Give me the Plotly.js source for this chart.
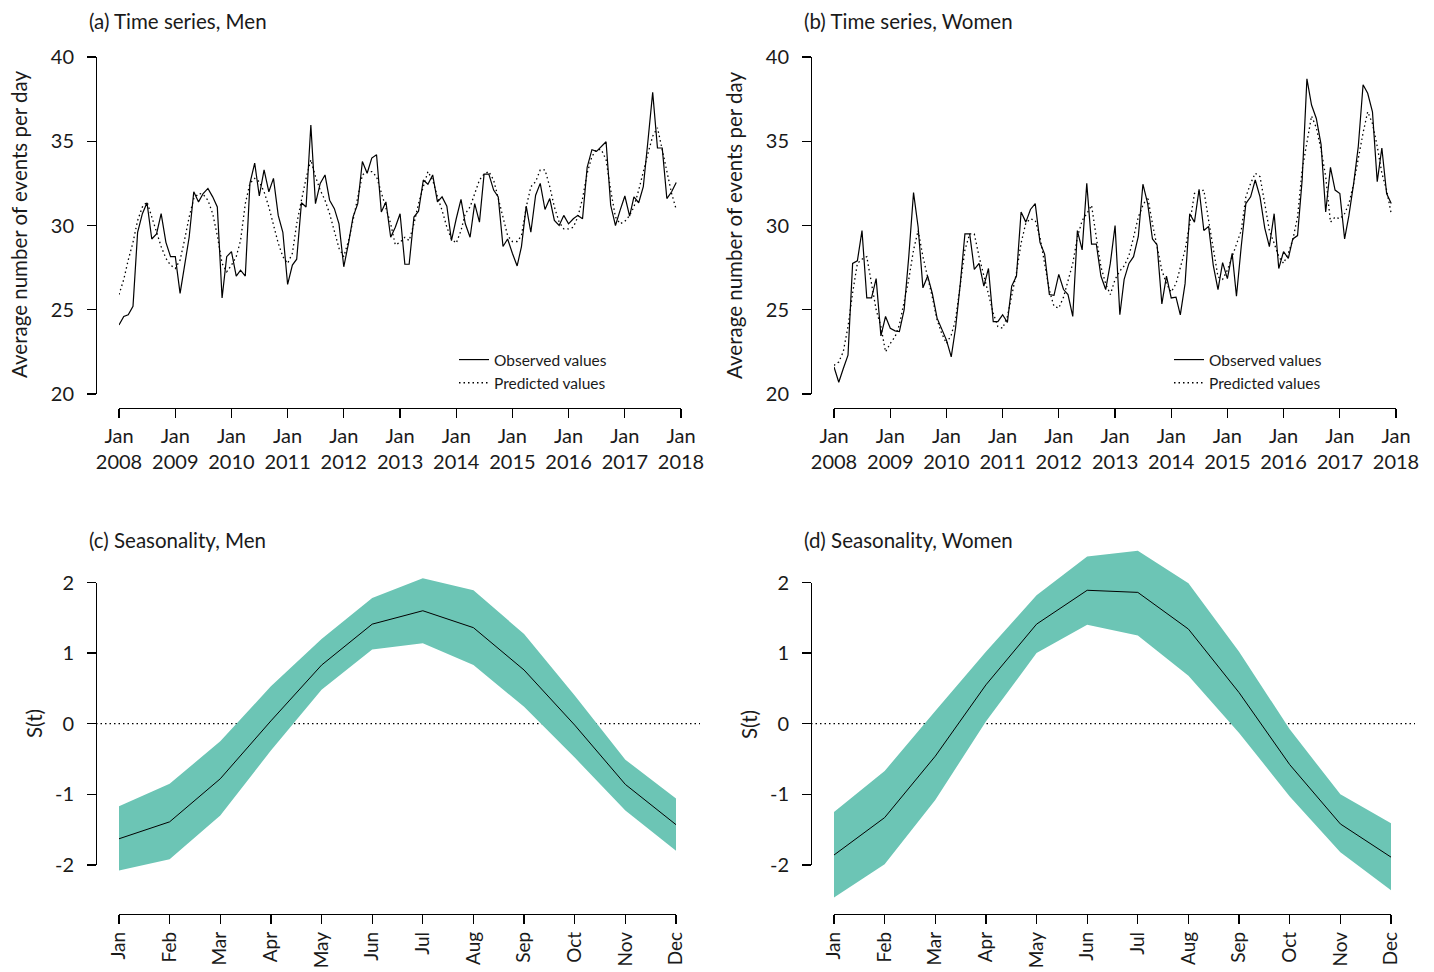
<!DOCTYPE html>
<html><head><meta charset="utf-8">
<script src="https://cdn.plot.ly/plotly-3.0.1.min.js"></script>
<style>html,body{margin:0;padding:0;background:#fff}#chart{width:1434px;height:972px}</style>
</head><body><div id="chart"></div>
<script>
// ---------- data ----------
const startYear = 2008;
const yearTickLabels = ['2008','2009','2010','2011','2012','2013','2014','2015','2016','2017','2018'];
const monthLabels = ['Jan','Feb','Mar','Apr','May','Jun','Jul','Aug','Sep','Oct','Nov','Dec'];
const countTicks = [20, 25, 30, 35, 40];
const seasonTicks = [-2, -1, 0, 1, 2];
const seasonTickLabels = ['-2', '-1', '0', '1', '2'];

const menObserved = [
  24.1,24.6,24.7,25.2,29.6,30.7,31.35,29.2,29.5,30.7,29.0,28.15,
  28.15,25.97,27.55,29.3,32.0,31.4,31.9,32.2,31.7,31.1,25.7,28.15,
  28.45,27.0,27.35,27.0,32.5,33.7,31.75,33.3,32.0,32.8,30.6,29.6,
  26.5,27.65,28.0,31.35,31.1,35.96,31.3,32.5,33.0,31.5,31.0,30.1,
  27.55,28.95,30.5,31.3,33.8,33.1,34.0,34.2,30.8,31.4,29.3,29.9,
  30.7,27.7,27.7,30.5,30.85,32.7,32.45,33.0,31.4,31.7,31.15,29.1,
  30.4,31.55,30.1,29.3,31.3,30.2,33.05,33.05,32.1,31.7,28.75,29.2,
  28.35,27.6,28.75,31.15,29.6,31.8,32.5,30.95,31.6,30.3,30.0,30.6,
  30.1,30.4,30.6,30.4,33.45,34.5,34.4,34.7,34.97,31.2,30.0,30.9,
  31.75,30.55,31.7,31.35,32.3,35.1,37.9,34.6,34.6,31.6,32.0,32.55
];
const menPredicted = [
  25.9,26.8,27.95,29.0,30.3,31.1,31.4,30.5,29.5,28.75,28.05,27.65,
  27.45,27.95,29.1,30.5,31.6,31.9,31.85,31.5,30.7,29.4,27.75,27.25,
  27.65,28.15,29.1,31.3,32.5,32.8,32.6,32.0,31.1,30.1,28.95,28.15,
  27.75,28.35,30.1,31.5,32.8,33.9,32.9,32.1,31.5,30.7,29.6,28.65,
  28.15,29.1,30.3,31.7,33.0,33.2,33.2,32.9,32.0,31.0,30.1,28.85,
  29.0,29.3,29.1,30.1,31.3,32.3,33.2,32.7,31.7,30.9,29.9,29.2,
  28.95,29.7,30.7,31.1,31.9,32.7,33.05,33.2,32.7,31.7,30.5,29.4,
  29.05,29.05,29.4,31.1,32.3,32.6,33.3,33.3,32.3,31.1,30.2,29.8,
  29.8,29.9,30.5,31.6,33.1,34.1,34.5,34.5,33.9,32.1,30.5,30.1,
  30.25,30.6,31.1,32.1,33.1,34.3,35.3,35.8,34.5,33.3,31.9,30.95
];
const womenObserved = [
  21.6,20.7,21.5,22.3,27.75,27.9,29.7,25.7,25.7,26.85,23.45,24.6,
  23.9,23.75,23.7,25.0,28.15,31.95,29.9,26.3,27.0,25.97,24.5,23.9,
  23.2,22.2,23.9,26.55,29.5,29.5,27.4,27.75,26.4,27.45,24.3,24.3,
  24.7,24.25,26.4,27.0,30.8,30.2,30.95,31.3,29.0,28.3,25.9,25.85,
  27.1,26.2,25.9,24.6,29.7,28.55,32.5,28.9,28.9,27.0,26.2,27.75,
  30.0,24.7,26.8,27.75,28.15,29.35,32.45,31.3,29.2,28.85,25.35,27.0,
  25.7,25.75,24.7,26.55,30.7,30.2,32.15,29.7,29.95,27.65,26.2,27.8,
  26.85,28.35,25.8,28.75,31.3,31.7,32.7,31.7,29.85,28.75,30.7,27.45,
  28.45,28.05,29.2,29.4,32.7,38.7,37.15,36.35,34.8,30.8,33.45,32.1,
  31.9,29.2,30.6,32.5,34.7,38.35,37.85,36.75,32.6,34.6,31.9,31.3
];
const womenPredicted = [
  21.7,21.9,22.5,24.0,26.0,27.75,28.0,28.15,26.55,25.0,24.0,22.5,
  23.0,23.4,24.1,25.4,26.8,28.55,29.7,28.15,27.0,25.75,24.4,23.6,
  23.0,23.5,24.4,26.55,28.55,29.5,29.5,28.15,27.0,26.0,24.8,24.0,
  23.9,24.6,25.75,27.2,28.95,30.15,30.4,30.3,29.3,27.75,26.15,25.2,
  25.1,25.75,26.8,27.75,29.3,30.3,30.7,31.2,29.3,27.55,26.55,25.9,
  26.8,27.3,27.6,28.2,29.3,30.5,31.2,31.7,30.1,28.75,27.35,26.55,
  26.05,26.55,27.5,28.55,30.1,31.9,32.0,32.1,30.3,28.55,26.95,26.8,
  27.35,28.15,28.95,29.7,31.7,32.5,33.1,32.9,31.3,29.7,28.95,28.15,
  27.75,28.35,29.15,30.5,33.3,34.9,36.5,35.8,34.5,32.9,30.2,30.5,
  30.4,30.7,31.3,32.5,34.1,35.5,36.75,36.05,34.7,33.1,32.1,30.7
];

const menSeason      = [-1.63,-1.39,-0.78,0.04,0.83,1.41,1.60,1.36,0.76,-0.02,-0.86,-1.43];
const menSeasonLow   = [-2.08,-1.92,-1.30,-0.38,0.48,1.05,1.14,0.83,0.24,-0.48,-1.23,-1.80];
const menSeasonHigh  = [-1.17,-0.85,-0.25,0.53,1.20,1.78,2.06,1.89,1.27,0.40,-0.51,-1.06];
const womenSeason     = [-1.86,-1.33,-0.46,0.55,1.41,1.89,1.86,1.34,0.44,-0.58,-1.42,-1.89];
const womenSeasonLow  = [-2.46,-1.99,-1.08,0.03,1.00,1.40,1.25,0.68,-0.13,-1.03,-1.82,-2.36];
const womenSeasonHigh = [-1.25,-0.67,0.18,1.02,1.82,2.37,2.45,1.99,1.02,-0.08,-1.00,-1.41];

// ---------- helpers ----------
const W = 1434, H = 972;
const px = v => v / W;
const py = v => 1 - v / H;
const pad = n => (n < 10 ? '0' : '') + n;
const dates = menObserved.map((_, k) => (startYear + Math.floor(k / 12)) + '-' + pad(k % 12 + 1) + '-01');
const yearTickVals = yearTickLabels.map(y => y + '-01-01');
const yearTickText = yearTickLabels.map(y => 'Jan<br>' + y);
const monthIdx = monthLabels.map((_, i) => i + 1);

const FONT = 'Lato, "Open Sans", "DejaVu Sans", sans-serif';
const TXT = '#1a1a1a';
const TEAL = '#6cc5b5';
const DOT = '1.5px,3px';
const OFF = 715; // horizontal offset of right column

const axisCommon = {
  showline: true, linecolor: '#000', linewidth: 1.3, ticks: 'outside', ticklen: 9,
  tickwidth: 1.3, tickcolor: '#000', showgrid: false, zeroline: false,
  tickfont: {family: FONT, size: 20, color: TXT}, fixedrange: true
};

function tsX(dx, pos) {
  return Object.assign({}, axisCommon, {
    type: 'date', domain: [px(119 + dx), px(681 + dx)], range: [yearTickVals[0], yearTickVals[yearTickVals.length - 1]],
    anchor: 'free', position: pos, tickmode: 'array', tickvals: yearTickVals, ticktext: yearTickText,
    ticklabelstandoff: 1
  });
}
function tsY(dx) {
  return Object.assign({}, axisCommon, {
    domain: [py(394), py(57)], range: [20, 40], anchor: 'free', position: px(96 + dx),
    tickmode: 'array', tickvals: countTicks, ticklabelstandoff: 9
  });
}
// seasonal: zero at y=723.7, 70.6 px per unit
const zeroPx = 723.7, unitPx = 70.6, dataSpan = 2.6;
function sX(dx) {
  return Object.assign({}, axisCommon, {
    domain: [px(119 + dx), px(676 + dx)], range: [1, 12], anchor: 'free', position: py(914),
    tickmode: 'array', tickvals: monthIdx, ticktext: monthLabels, tickangle: -90, ticklabelstandoff: 0,
    tickfont: {family: FONT, size: 19, color: TXT}
  });
}
function sYdata(xa) {
  return {domain: [py(zeroPx + dataSpan * unitPx), py(zeroPx - dataSpan * unitPx)], range: [-dataSpan, dataSpan],
    anchor: xa, visible: false, fixedrange: true};
}
function sYshow(dx) {
  return Object.assign({}, axisCommon, {
    domain: [py(zeroPx + 2 * unitPx), py(zeroPx - 2 * unitPx)], range: [-2, 2], anchor: 'free', position: px(96 + dx),
    tickmode: 'array', tickvals: seasonTicks, ticktext: seasonTickLabels, ticklabelstandoff: 9
  });
}

const obsLine = {color: '#000', width: 1.2};
const predLine = {color: '#000', width: 1.3, dash: DOT};

const traces = [
  {x: dates, y: menObserved, xaxis: 'x', yaxis: 'y', mode: 'lines', line: obsLine, name: 'Observed values', legend: 'legend'},
  {x: dates, y: menPredicted, xaxis: 'x', yaxis: 'y', mode: 'lines', line: predLine, name: 'Predicted values', legend: 'legend'},
  {x: dates, y: womenObserved, xaxis: 'x2', yaxis: 'y2', mode: 'lines', line: obsLine, name: 'Observed values', legend: 'legend2'},
  {x: dates, y: womenPredicted, xaxis: 'x2', yaxis: 'y2', mode: 'lines', line: predLine, name: 'Predicted values', legend: 'legend2'},
  {x: monthIdx, y: menSeasonLow, xaxis: 'x3', yaxis: 'y3', mode: 'lines', line: {width: 0, color: TEAL}, showlegend: false, hoverinfo: 'skip'},
  {x: monthIdx, y: menSeasonHigh, xaxis: 'x3', yaxis: 'y3', mode: 'lines', line: {width: 0, color: TEAL}, fill: 'tonexty', fillcolor: TEAL, showlegend: false, hoverinfo: 'skip'},
  {x: monthIdx, y: womenSeasonLow, xaxis: 'x4', yaxis: 'y4', mode: 'lines', line: {width: 0, color: TEAL}, showlegend: false, hoverinfo: 'skip'},
  {x: monthIdx, y: womenSeasonHigh, xaxis: 'x4', yaxis: 'y4', mode: 'lines', line: {width: 0, color: TEAL}, fill: 'tonexty', fillcolor: TEAL, showlegend: false, hoverinfo: 'skip'},
  {x: monthIdx, y: menSeason, xaxis: 'x3', yaxis: 'y5', mode: 'lines', line: {color: '#000', width: 1}, showlegend: false},
  {x: monthIdx, y: womenSeason, xaxis: 'x4', yaxis: 'y6', mode: 'lines', line: {color: '#000', width: 1}, showlegend: false}
];

function ann(text, x, y, opts) {
  return Object.assign({text: text, x: px(x), y: py(y), xref: 'paper', yref: 'paper', showarrow: false,
    xanchor: 'left', yanchor: 'middle', font: {family: FONT, size: 20.5, color: TXT}}, opts || {});
}

const legendCommon = {xanchor: 'left', yanchor: 'top', bgcolor: 'rgba(0,0,0,0)', borderwidth: 0, traceorder: 'normal',
  font: {family: FONT, size: 15.5, color: TXT}, tracegroupgap: 0, itemwidth: 30};

const layout = {
  width: W, height: H, margin: {l: 0, r: 0, t: 0, b: 0}, paper_bgcolor: '#fff', plot_bgcolor: 'rgba(0,0,0,0)',
  font: {family: FONT, color: TXT},
  xaxis: tsX(0, py(408)), yaxis: tsY(0),
  xaxis2: tsX(OFF, py(408)), yaxis2: tsY(OFF),
  xaxis3: sX(0), yaxis3: sYdata('x3'), yaxis5: sYshow(0),
  xaxis4: sX(OFF), yaxis4: sYdata('x4'), yaxis6: sYshow(OFF),
  legend: Object.assign({x: px(454), y: py(343)}, legendCommon),
  legend2: Object.assign({x: px(454 + OFF), y: py(343)}, legendCommon),
  shapes: [
    {type: 'line', xref: 'paper', yref: 'y5', x0: px(96), x1: px(700), y0: 0, y1: 0, layer: 'below', line: {color: '#000', width: 1.3, dash: DOT}},
    {type: 'line', xref: 'paper', yref: 'y6', x0: px(96 + OFF), x1: px(700 + OFF), y0: 0, y1: 0, layer: 'below', line: {color: '#000', width: 1.3, dash: DOT}}
  ],
  annotations: [
    ann('(a) Time series, Men', 87, 21),
    ann('(b) Time series, Women', 87 + OFF, 21),
    ann('(c) Seasonality, Men', 87, 540),
    ann('(d) Seasonality, Women', 87 + OFF, 540),
    ann('Average number of events per day', 19, 225, {textangle: -90, xanchor: 'center'}),
    ann('Average number of events per day', 19 + OFF, 225, {textangle: -90, xanchor: 'center'}),
    ann('S(t)', 34, 724, {textangle: -90, xanchor: 'center'}),
    ann('S(t)', 34 + OFF, 724, {textangle: -90, xanchor: 'center'})
  ],
  showlegend: true
};

Plotly.newPlot('chart', traces, layout, {displayModeBar: false, staticPlot: true});
</script>
</body></html>
